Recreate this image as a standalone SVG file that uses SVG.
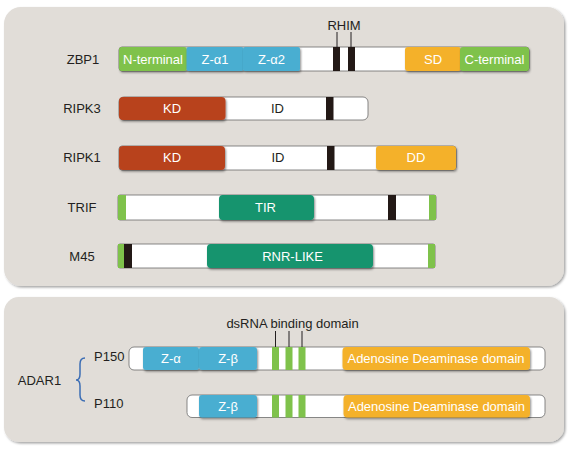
<svg xmlns="http://www.w3.org/2000/svg" width="570" height="449" viewBox="0 0 570 449">
<defs>
<filter id="psh" x="-5%" y="-5%" width="110%" height="110%"><feDropShadow dx="1.5" dy="1.5" stdDeviation="1.2" flood-color="#000" flood-opacity="0.35"/></filter>
<filter id="dsh" x="-10%" y="-20%" width="120%" height="150%"><feDropShadow dx="1" dy="1.5" stdDeviation="0.8" flood-color="#000" flood-opacity="0.45"/></filter>
</defs>
<style>
text{font-family:"Liberation Sans",Arial,sans-serif;font-size:13px;}
.lbl{fill:#231f20;text-anchor:middle;}
.lbll{fill:#231f20;}
.in{fill:#ffffff;text-anchor:middle;}
.dk{fill:#231f20;text-anchor:middle;}
.panel{fill:#e1ddd8;}
.bar{fill:#ffffff;stroke:#6b6b6b;stroke-width:0.8;}
.grn{fill:#7fc24b;}
.blu{fill:#4aaed1;}
.org{fill:#f4b12a;}
.red{fill:#b8421f;}
.teal{fill:#13946e;}
.blk{fill:#231916;}
.dom{filter:url(#dsh);}
.tick{stroke:#231f20;stroke-width:1;}
</style>
<rect class="panel" x="4" y="7" width="560" height="279" rx="17" filter="url(#psh)"/>
<rect class="panel" x="4" y="297" width="560" height="145" rx="15" filter="url(#psh)"/>

<g id="ZBP1">
<text class="lbl" x="83" y="64">ZBP1</text>
<rect class="bar" x="119" y="47" width="410" height="24" rx="3"/>
<rect class="grn dom" x="119" y="47" width="68" height="24" rx="3"/>
<rect class="blu dom" x="186.5" y="47" width="57" height="24" rx="2"/>
<rect class="blu dom" x="243" y="47" width="57" height="24" rx="2"/>
<rect class="blk" x="333" y="47" width="7" height="24"/>
<rect class="blk" x="348" y="47" width="7" height="24"/>
<rect class="org dom" x="405" y="47" width="56" height="24" rx="3"/>
<rect class="grn dom" x="460" y="47" width="69" height="24" rx="3"/>
<text class="in" x="153" y="64">N-terminal</text>
<text class="in" x="215" y="64">Z-α1</text>
<text class="in" x="271.5" y="64">Z-α2</text>
<text class="in" x="433" y="64">SD</text>
<text class="in" x="494.5" y="64">C-terminal</text>
<text class="dk" x="344" y="30">RHIM</text>
<line class="tick" x1="337" y1="32" x2="337" y2="47"/>
<line class="tick" x1="351" y1="32" x2="351" y2="47"/>
</g>

<g id="RIPK3">
<text class="lbl" x="82" y="113">RIPK3</text>
<rect class="bar" x="119" y="97" width="249" height="23" rx="5"/>
<rect class="red dom" x="119" y="97" width="106.5" height="23" rx="4"/>
<rect class="blk" x="326" y="97" width="7.5" height="23"/>
<text class="in" x="172" y="113">KD</text>
<text class="dk" x="277.5" y="113">ID</text>
</g>

<g id="RIPK1">
<text class="lbl" x="82" y="162">RIPK1</text>
<rect class="bar" x="119" y="146" width="337" height="24" rx="3"/>
<rect class="red dom" x="119" y="146" width="106" height="24" rx="4"/>
<rect class="blk" x="327" y="146" width="7.5" height="24"/>
<rect class="org dom" x="376" y="146" width="80" height="24" rx="3"/>
<text class="in" x="172" y="162">KD</text>
<text class="dk" x="278" y="162">ID</text>
<text class="in" x="416" y="162">DD</text>
</g>

<g id="TRIF">
<text class="lbl" x="82" y="212">TRIF</text>
<rect class="bar" x="118" y="195" width="318" height="25" rx="2"/>
<rect class="grn" x="118" y="195" width="8" height="25"/>
<rect class="grn" x="429" y="195" width="7" height="25"/>
<rect class="teal dom" x="219" y="195" width="95" height="25" rx="4"/>
<rect class="blk" x="388" y="195" width="8" height="25"/>
<text class="in" x="265.5" y="212">TIR</text>
</g>

<g id="M45">
<text class="lbl" x="82" y="261">M45</text>
<rect class="bar" x="118" y="244" width="317" height="24" rx="2"/>
<rect class="grn" x="118" y="244" width="6" height="24"/>
<rect class="blk" x="124" y="244" width="8" height="24"/>
<rect class="grn" x="428" y="244" width="7" height="24"/>
<rect class="teal dom" x="207" y="244" width="166" height="24" rx="4"/>
<text class="in" x="292.5" y="261">RNR-LIKE</text>
</g>

<g id="ADAR1">
<text class="lbl" x="39.5" y="385">ADAR1</text>
<path d="M85,358 Q80,358 80,364 L80,374 Q80,380 76,380 Q80,380 80,386 L80,395 Q80,401 85,401" fill="none" stroke="#3b6db4" stroke-width="1.5"/>
</g>

<g id="P150">
<text class="lbll" x="94" y="361">P150</text>
<rect class="bar" x="129" y="347" width="416" height="23" rx="5"/>
<rect class="blu dom" x="143" y="347" width="56" height="23" rx="3"/>
<rect class="blu dom" x="199" y="347" width="58" height="23" rx="3"/>
<rect class="grn" x="272" y="347" width="7" height="23"/>
<rect class="grn" x="285.5" y="347" width="7" height="23"/>
<rect class="grn" x="298.5" y="347" width="7" height="23"/>
<rect class="org dom" x="342.5" y="347" width="187.5" height="23" rx="4"/>
<text class="in" x="171" y="363">Z-α</text>
<text class="in" x="228" y="363">Z-β</text>
<text class="in" x="436" y="363">Adenosine Deaminase domain</text>
<text class="dk" x="292.5" y="328">dsRNA binding domain</text>
<line class="tick" x1="275.5" y1="331" x2="275.5" y2="347"/>
<line class="tick" x1="289" y1="331" x2="289" y2="347"/>
<line class="tick" x1="302" y1="331" x2="302" y2="347"/>
</g>

<g id="P110">
<text class="lbll" x="94" y="408">P110</text>
<rect class="bar" x="187" y="395" width="358" height="22.5" rx="5"/>
<rect class="blu dom" x="199" y="395" width="58" height="22.5" rx="3"/>
<rect class="grn" x="272" y="395" width="7" height="22.5"/>
<rect class="grn" x="285.5" y="395" width="7" height="22.5"/>
<rect class="grn" x="298.5" y="395" width="7" height="22.5"/>
<rect class="org dom" x="343.5" y="395" width="186.5" height="22.5" rx="4"/>
<text class="in" x="228" y="411">Z-β</text>
<text class="in" x="436.5" y="411">Adenosine Deaminase domain</text>
</g>
</svg>
